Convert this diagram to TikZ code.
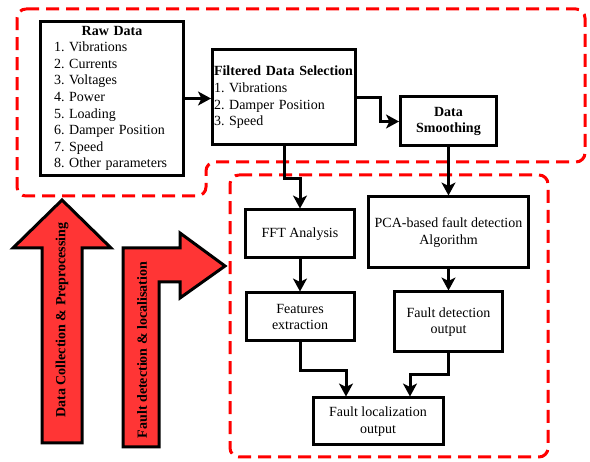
\documentclass[tikz,border=0pt]{standalone}
\usepackage{fontspec}
\setmainfont{Liberation Serif}
\usetikzlibrary{arrows.meta}
\definecolor{arrred}{HTML}{FF3535}
\frenchspacing
\hyphenpenalty=10000\relax
\exhyphenpenalty=10000\relax
\tikzset{
  box/.style={draw=black, line width=3pt, fill=white, inner sep=0pt, align=center,
    font=\fontsize{14}{16.6}\selectfont},
  arr/.style={line width=3pt, -{Stealth[length=13pt,width=14pt,inset=3.5pt]}},
  region/.style={draw=red, line width=3pt, dash pattern=on 13pt off 7pt, rounded corners=9pt},
  bigarrow/.style={draw=black, line width=3pt, fill=arrred, line join=miter},
  arrtext/.style={font=\bfseries\fontsize{14}{16}\selectfont, rotate=90}
}
\begin{document}
\begin{tikzpicture}[x=1pt,y=-1pt]
\useasboundingbox (0,0) rectangle (590,462);
% dashed regions
\draw[region] (17,9) -- (585,9) -- (585,162) -- (206,162) -- (206,196) -- (17,196) -- cycle;
\draw[region] (230,175) -- (548,175) -- (548,457) -- (230,457) -- cycle;
% boxes
\node[box, minimum width=143pt, minimum height=154pt, text width=116pt, align=left] (raw) at (112,98.5)
  {\makebox[116pt][c]{\textbf{Raw Data}}\\1. Vibrations\\2. Currents\\3. Voltages\\4. Power\\5. Loading\\6. Damper Position\\7. Speed\\8. Other parameters};
\node[box, minimum width=143pt, minimum height=95pt, text width=140pt, align=left] (filt) at (284,97.5)
  {\textbf{Filtered Data Selection}\\1. Vibrations\\2. Damper Position\\3. Speed};
\node[box, minimum width=96pt, minimum height=49pt] (smooth) at (448.5,121.5) {\textbf{Data}\\\textbf{Smoothing}};
\node[box, minimum width=109pt, minimum height=48pt] (fft) at (300,234) {FFT Analysis};
\node[box, minimum width=160pt, minimum height=71pt] (pca) at (448.5,232.5) {PCA-based fault detection\\Algorithm};
\node[box, minimum width=108pt, minimum height=48pt] (feat) at (300,317) {Features\\extraction};
\node[box, minimum width=108pt, minimum height=60pt] (fdo) at (448.5,322) {Fault detection\\output};
\node[box, minimum width=130pt, minimum height=47pt] (flo) at (378,421.5) {Fault localization\\output};
% connectors
\draw[arr] (raw.east) -- (filt.west |- raw.east);
\draw[arr] (filt.east) -- ++(23,0) |- (smooth.west);
\draw[arr] (filt.south) -- ++(0,32) -| (fft.north);
\draw[arr] (smooth.south) -- (pca.north);
\draw[arr] (fft.south) -- (feat.north);
\draw[arr] (pca.south) -- (fdo.north);
\draw[arr] (feat.south) -- ++(0,28) -| ([xshift=-32pt]flo.north);
\draw[arr] (fdo.south) -- ++(0,21) -| ([xshift=32pt]flo.north);
% big red arrows
\draw[bigarrow] (42,443) -- (42,248) -- (13,248) -- (62,200) -- (111,248) -- (82,248) -- (82,443) -- cycle;
\node[arrtext] (t1) at (62,320) {Data Collection \& Preprocessing};
\draw[bigarrow] (123,447) -- (123,248) -- (180,248) -- (180,233) -- (225,266) -- (180,298) -- (180,282) -- (159,282) -- (159,447) -- cycle;
\node[arrtext] (t2) at (142,350) {Fault detection \& localisation};
\end{tikzpicture}
\end{document}
